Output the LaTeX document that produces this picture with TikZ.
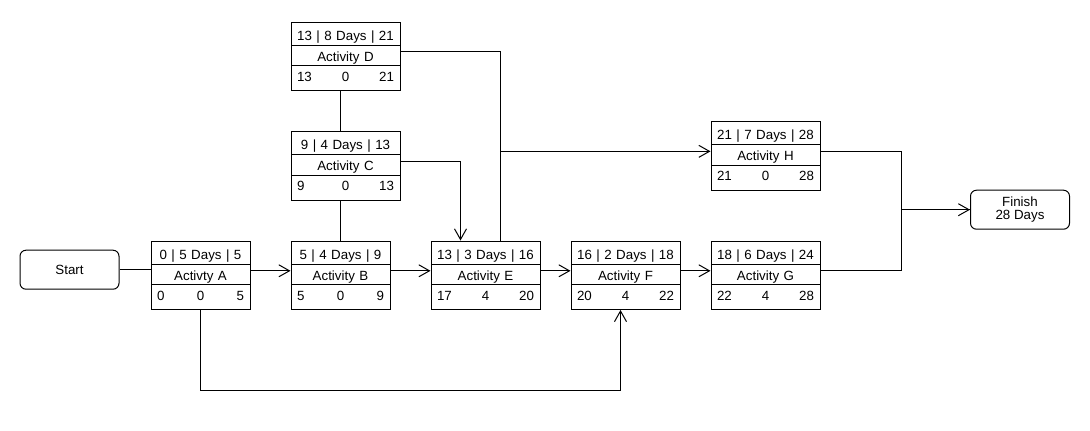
\documentclass[tikz,border=0pt]{standalone}
\usepackage{fontspec}
\setmainfont{Liberation Sans}
\usepackage{tikz}
\usetikzlibrary{positioning}
\usetikzlibrary{calc}
\usetikzlibrary{shapes,arrows.meta}
\newcommand{\hdrstrut}{\rule[-3.3pt]{0pt}{16.6pt}}
\newcommand{\namestrut}{\rule[-2.9pt]{0pt}{14.6pt}}
\newcommand{\numstrut}{\rule[-6.6pt]{0pt}{17.9pt}}
\tikzset{
	every node/.style={font=\fontsize{10}{10}\selectfont},
	act/.style={rectangle split, rectangle split parts=3, draw, inner xsep=4.5pt, inner ysep=0pt, align=center, text width=72.75pt},
	narrow/.style={text width=65.25pt},
	term/.style={rectangle, draw, rounded corners=4.5pt, minimum width=74.25pt, minimum height=29.25pt, align=center},
	leads/.style={-{Straight Barb[length=8pt,width=9pt]}}
}

\begin{document}
\begin{tikzpicture}[x=0.75pt, y=-0.75pt, line width=0.75pt, node distance=30pt and 30pt]
	\useasboundingbox (0,0) rectangle (1090,430);
	
	% Main row
	\node (start) [term] at (69.5,269.7) {Start};
	\node (a) [act, narrow, anchor=north west] at (150.5,240.5) {\hdrstrut 0 | 5 Days | 5\nodepart{two}\namestrut Activty A\nodepart{three}\numstrut\rlap{0}\hfill 0\hfill\llap{5}};
	\node (b) [act, narrow, right=of a] {\hdrstrut 5 | 4 Days | 9\nodepart{two}\namestrut Activity B\nodepart{three}\numstrut\rlap{5}\hfill 0\hfill\llap{9}};
	\node (e) [act, right=of b] {\hdrstrut 13 | 3 Days | 16\nodepart{two}\namestrut Activity E\nodepart{three}\numstrut\rlap{17}\hfill 4\hfill\llap{20}};
	\node (f) [act, right=22.5pt of e] {\hdrstrut 16 | 2 Days | 18\nodepart{two}\namestrut Activity F\nodepart{three}\numstrut\rlap{20}\hfill 4\hfill\llap{22}};
	\node (g) [act, right=22.5pt of f] {\hdrstrut 18 | 6 Days | 24\nodepart{two}\namestrut Activity G\nodepart{three}\numstrut\rlap{22}\hfill 4\hfill\llap{28}};
	
	% Upper boxes
	\node (c) [act, above=of b.north west, anchor=south west] {\hdrstrut 9 | 4 Days | 13\nodepart{two}\namestrut Activity C\nodepart{three}\numstrut\rlap{9}\hfill 0\hfill\llap{13}};
	\node (d) [act, above=of c.north west, anchor=south west] {\hdrstrut 13 | 8 Days | 21\nodepart{two}\namestrut Activity D\nodepart{three}\numstrut\rlap{13}\hfill 0\hfill\llap{21}};
	\node (h) [act, above=37.5pt of g] {\hdrstrut 21 | 7 Days | 28\nodepart{two}\namestrut Activity H\nodepart{three}\numstrut\rlap{21}\hfill 0\hfill\llap{28}};
	\node (finish) [term] at (1020,209.7) {Finish\\28 Days};
	
	% Connectors
	\draw (start) -- (a.west |- start);
	\draw[leads] ([yshift=-5pt]a.one split east) -- ([yshift=-5pt]b.one split west);
	\draw[leads] ([yshift=-5pt]b.one split east) -- ([yshift=-5pt]e.one split west);
	\draw[leads] ([yshift=-5pt]e.one split east) -- ([yshift=-5pt]f.one split west);
	\draw[leads] ([yshift=-5pt]f.one split east) -- ([yshift=-5pt]g.one split west);
	\draw[leads] (a.south) -- ++(0,81) -| ([xshift=-3.75pt]f.south);
	
	\draw (b.north) -- (b.north |- c.south);
	\draw (b.north |- c.north) -- (b.north |- d.south);
	\draw[leads] ([yshift=-5pt]c.one split east) -| ([xshift=-18.75pt]e.north);
	\draw ([yshift=-5pt]d.one split east) -| ([xshift=11.25pt]e.north);
	\draw[leads] ([xshift=11.25pt]e.north) |- ([yshift=-5pt]h.one split west);
	
	\draw[leads] ([yshift=-5pt]h.one split east) -- ++(81,0) |- (finish.west);
	\draw ([yshift=-5pt]g.one split east) -- ++(81,0) |- (finish.west);
	
\end{tikzpicture}
\end{document}
